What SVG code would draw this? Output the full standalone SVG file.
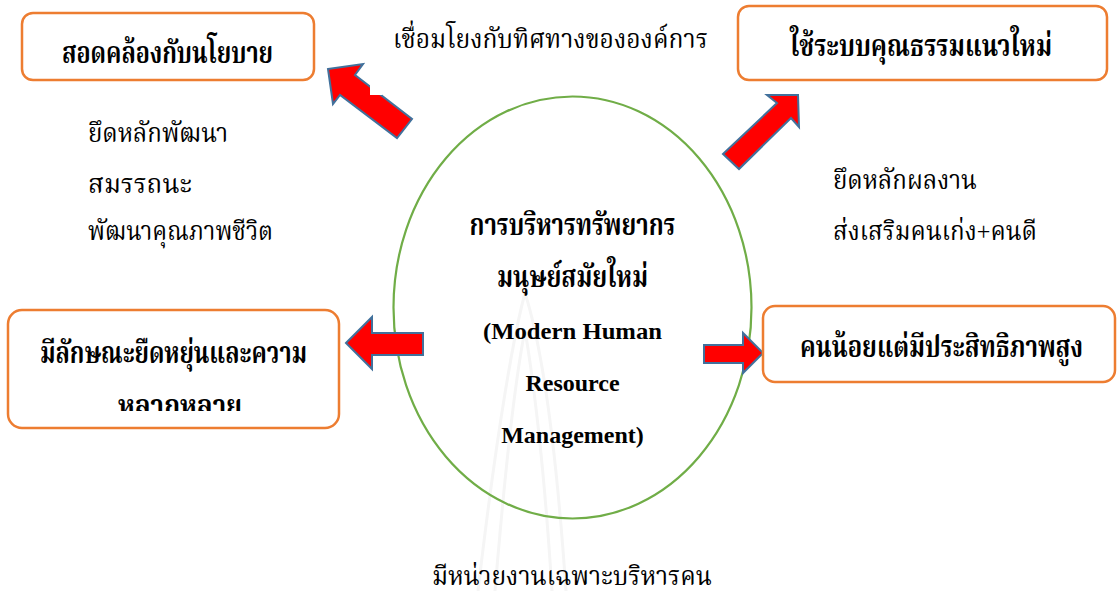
<svg xmlns="http://www.w3.org/2000/svg" width="1117" height="591" viewBox="0 0 1117 591">
  <defs>
    <style>
      .box { fill: #ffffff; stroke: #ED7D31; stroke-width: 2.5; }
      .arrow { fill: #FF0000; stroke: #41719C; stroke-width: 2; stroke-linejoin: miter; }
      .hub { fill: none; stroke: #70AD47; stroke-width: 2.2; }
      .th { font-family: 'Liberation Serif', 'Noto Serif Thai', 'Noto Sans Thai', serif; fill: #000000; }
      .bold { font-weight: bold; }
      .lbl { font-size: 26px; }
      .ttl { font-size: 30px; }
      .en { font-weight: bold; font-size: 24px; fill: #000000; }
      .mark { fill: none; stroke: #f5f5f5; stroke-width: 3; }
    </style>
    <clipPath id="clip-flex">
      <rect x="8" y="310" width="332" height="101"/>
    </clipPath>
  </defs>

  <rect width="1117" height="591" fill="#ffffff"/>

  <!-- faint background emblem -->
  <g id="emblem">
    <path class="mark" d="M525,293 C515,330 498,420 478,591 M525,293 C540,340 555,430 566,591 M525,330 C515,380 505,470 495,591 M525,330 C535,390 545,480 552,591"/>
  </g>

  <!-- central hub -->
  <g id="hub">
    <ellipse class="hub" cx="572.5" cy="307.5" rx="179" ry="211"/>
    <text class="th bold ttl" x="572.5" y="235" text-anchor="middle" textLength="206" lengthAdjust="spacingAndGlyphs">การบริหารทรัพยากร</text>
    <text class="th bold ttl" x="572.5" y="287" text-anchor="middle" textLength="151" lengthAdjust="spacingAndGlyphs">มนุษย์สมัยใหม่</text>
    <g font-family="Liberation Serif, Times New Roman, serif">
      <text class="en" x="572.5" y="339" text-anchor="middle" textLength="179" lengthAdjust="spacingAndGlyphs">(Modern Human</text>
      <text class="en" x="572.5" y="391" text-anchor="middle">Resource</text>
      <text class="en" x="572.5" y="443" text-anchor="middle">Management)</text>
    </g>
  </g>

  <!-- block arrows from the hub to each outcome -->
  <g id="connectors">
    <polygon class="arrow" points="328,69 363,64 355,75 412,119 397,138 340,95 333,104"/>
    <rect x="370" y="85" width="12" height="10" fill="#ffffff"/>
    <polygon class="arrow" points="798,95 767,95 777,103 723,154 739,169 791,118 799,127"/>
    <polygon class="arrow" points="346,343 372,317 372,333 423,333 423,355 372,355 372,369"/>
    <polygon class="arrow" points="704,345 743,345 743,333 763,353 743,373 743,363 704,363"/>
  </g>

  <g id="policy">
    <rect class="box" x="22" y="13" width="292" height="67" rx="11"/>
    <text class="th bold ttl" x="167.5" y="63" text-anchor="middle" textLength="211" lengthAdjust="spacingAndGlyphs">สอดคล้องกับนโยบาย</text>
  </g>

  <g id="merit">
    <rect class="box" x="738" y="6" width="369" height="74" rx="11"/>
    <text class="th bold ttl" x="921" y="56" text-anchor="middle" textLength="262" lengthAdjust="spacingAndGlyphs">ใช้ระบบคุณธรรมแนวใหม่</text>
  </g>

  <g id="flexible">
    <rect class="box" x="8" y="310" width="331" height="118" rx="14"/>
    <text class="th bold ttl" x="173.5" y="363" text-anchor="middle" textLength="267" lengthAdjust="spacingAndGlyphs">มีลักษณะยืดหยุ่นและความ</text>
    <text class="th bold ttl" x="180" y="416" text-anchor="middle" textLength="124" lengthAdjust="spacingAndGlyphs" clip-path="url(#clip-flex)">หลากหลาย</text>
  </g>

  <g id="efficient">
    <rect class="box" x="763" y="306" width="352" height="76" rx="12"/>
    <text class="th bold ttl" x="941.5" y="357" text-anchor="middle" textLength="283" lengthAdjust="spacingAndGlyphs">คนน้อยแต่มีประสิทธิภาพสูง</text>
  </g>

  <!-- free-standing notes -->
  <g id="notes">
    <text class="th lbl" x="393" y="48" textLength="315" lengthAdjust="spacingAndGlyphs">เชื่อมโยงกับทิศทางขององค์การ</text>
    <text class="th lbl" x="88" y="142" textLength="140" lengthAdjust="spacingAndGlyphs">ยึดหลักพัฒนา</text>
    <text class="th lbl" x="88" y="193" textLength="104" lengthAdjust="spacingAndGlyphs">สมรรถนะ</text>
    <text class="th lbl" x="88" y="240" textLength="185" lengthAdjust="spacingAndGlyphs">พัฒนาคุณภาพชีวิต</text>
    <text class="th lbl" x="833" y="189" textLength="144" lengthAdjust="spacingAndGlyphs">ยึดหลักผลงาน</text>
    <text class="th lbl" x="833" y="240" textLength="204" lengthAdjust="spacingAndGlyphs">ส่งเสริมคนเก่ง+คนดี</text>
    <text class="th lbl" x="432" y="585" textLength="280" lengthAdjust="spacingAndGlyphs">มีหน่วยงานเฉพาะบริหารคน</text>
  </g>
</svg>
